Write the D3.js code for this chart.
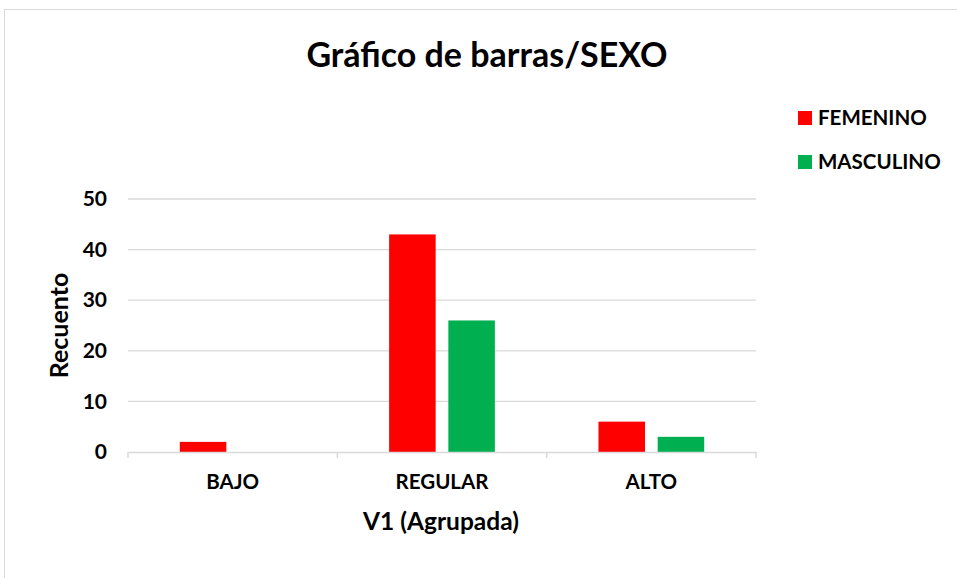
<!DOCTYPE html>
<html>
<head>
<meta charset="utf-8">
<script src="https://cdn.jsdelivr.net/npm/d3@7"></script>
<style>
  body { margin: 0; background: #fff; }
  svg { display: block; font-family: Lato, "Open Sans", sans-serif; }
</style>
</head>
<body>
<div id="chart"></div>
<script>
const categories = ["BAJO", "REGULAR", "ALTO"];
const seriesNames = ["FEMENINO", "MASCULINO"];
const femenino = [2, 43, 6];
const masculino = [0, 26, 3];
const yTicks = [0, 10, 20, 30, 40, 50];
const colors = ["#ff0000", "#00b050"];

const width = 957, height = 578;
const margin = { top: 199, right: 201, bottom: 126, left: 128 };
const plotW = width - margin.left - margin.right;
const plotH = height - margin.top - margin.bottom;

const rows = categories.map((c, i) => ({ cat: c, values: [femenino[i], masculino[i]] }));

const svg = d3.select("#chart").append("svg")
  .attr("width", width)
  .attr("height", height);

// chart frame
svg.append("rect")
  .attr("x", 4.5).attr("y", 9.5)
  .attr("width", width + 10).attr("height", height + 10)
  .attr("fill", "#fff").attr("stroke", "#d9d9d9").attr("stroke-width", 1);

svg.append("text")
  .attr("x", 487).attr("y", 67)
  .attr("text-anchor", "middle")
  .attr("font-size", 34).attr("font-weight", "bold")
  .text("Gráfico de barras/SEXO");

const g = svg.append("g").attr("transform", `translate(${margin.left},${margin.top})`);

const x0 = d3.scaleBand().domain(categories).range([0, plotW]).padding(0);
const x1 = d3.scaleBand().domain(seriesNames).range([0, x0.bandwidth()])
  .paddingInner(0.214).paddingOuter(0.875);
const y = d3.scaleLinear().domain([0, 50]).range([plotH, 0]);

// gridlines
g.selectAll(".grid").data(yTicks.slice(1)).enter().append("line")
  .attr("x1", 0).attr("x2", plotW)
  .attr("y1", d => y(d)).attr("y2", d => y(d))
  .attr("stroke", "#d9d9d9").attr("stroke-width", 1.3);

// y axis labels
const yAxis = g.append("g")
  .call(d3.axisLeft(y).tickValues(yTicks).tickSize(0).tickPadding(21));
yAxis.select(".domain").remove();
yAxis.selectAll("text")
  .attr("font-size", 21).attr("font-weight", "bold").attr("fill", "#000")
  .attr("font-family", "Lato, sans-serif");

// bars
const groups = g.selectAll(".grp").data(rows).enter().append("g")
  .attr("transform", d => `translate(${x0(d.cat)},0)`);
groups.selectAll("rect")
  .data(d => d.values.map((v, i) => ({ name: seriesNames[i], value: v, i })))
  .enter().append("rect")
  .attr("x", d => x1(d.name))
  .attr("y", d => y(d.value))
  .attr("width", x1.bandwidth())
  .attr("height", d => plotH - y(d.value))
  .attr("fill", d => colors[d.i]);

// x axis
const xAxis = g.append("g")
  .attr("transform", `translate(0,${plotH})`)
  .call(d3.axisBottom(x0).tickSize(0).tickPadding(22));
xAxis.select(".domain").attr("stroke", "#d9d9d9").attr("stroke-width", 1.5);
xAxis.selectAll("text")
  .attr("font-size", 20.5).attr("font-weight", "bold").attr("fill", "#000")
  .attr("font-family", "Lato, sans-serif");
g.selectAll(".xtick").data([0, ...categories.map(c => x0(c) + x0.bandwidth())]).enter()
  .append("line")
  .attr("x1", d => d).attr("x2", d => d)
  .attr("y1", plotH).attr("y2", plotH + 6)
  .attr("stroke", "#d9d9d9").attr("stroke-width", 1.5);

// axis titles
svg.append("text")
  .attr("x", margin.left + plotW / 2 - 1).attr("y", 530)
  .attr("text-anchor", "middle")
  .attr("font-size", 24.5).attr("font-weight", "bold")
  .text("V1 (Agrupada)");
svg.append("text")
  .attr("transform", `translate(68,${margin.top + plotH / 2}) rotate(-90)`)
  .attr("text-anchor", "middle")
  .attr("font-size", 25).attr("font-weight", "bold")
  .text("Recuento");

// legend
const legend = svg.append("g").attr("transform", "translate(798,111)");
const items = legend.selectAll("g").data(seriesNames).enter().append("g")
  .attr("transform", (d, i) => `translate(0,${i * 44})`);
items.append("rect").attr("width", 14).attr("height", 14)
  .attr("fill", (d, i) => colors[i]);
items.append("text").attr("x", 20).attr("y", 14)
  .attr("font-size", 20.5).attr("font-weight", "bold")
  .text(d => d);
</script>
</body>
</html>
